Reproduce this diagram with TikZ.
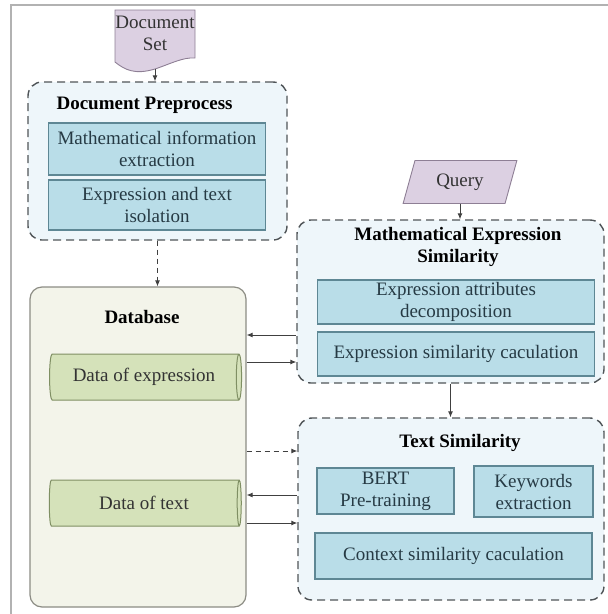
\documentclass[tikz,border=0pt]{standalone}
\usepackage{fontspec}
\setmainfont{Liberation Serif}
\usepackage{xcolor}
\usetikzlibrary{shapes,arrows.meta,positioning,calc}

\definecolor{boxblue}{HTML}{B9DDE8}
\definecolor{boxline}{HTML}{5E8794}
\definecolor{groupfill}{HTML}{EEF6FA}
\definecolor{groupline}{HTML}{505558}
\definecolor{dbfill}{HTML}{F3F4EA}
\definecolor{dbline}{HTML}{8C8C84}
\definecolor{cylfill}{HTML}{D5E2BA}
\definecolor{cylline}{HTML}{7F8F63}
\definecolor{inputfill}{HTML}{DCD0E2}
\definecolor{inputline}{HTML}{8E7F95}
\definecolor{inktext}{HTML}{263A44}

\begin{document}
\begin{tikzpicture}[x=1pt,y=-1pt,
    font=\fontsize{19}{22}\selectfont,
    title/.style={font=\fontsize{19}{22}\selectfont\bfseries, align=center},
    group/.style={draw=groupline, fill=groupfill, line width=1.4pt, dash pattern=on 8pt off 5pt, rounded corners=14pt},
    task/.style={draw=boxline, fill=boxblue, line width=1.1pt, text=inktext, align=center, inner sep=0pt},
    store/.style={cylinder, draw=cylline, fill=cylfill, line width=1pt, aspect=0.3, text=black!80, inner sep=0pt},
    arr/.style={-{Latex[length=6pt,width=5pt]}, draw=black!75, line width=0.9pt},
]
    \useasboundingbox (0,0) rectangle (608,614);
    \draw[black!30, line width=2.5pt] (11,614) -- (11,5) -- (608,5);

    % Document set (wavy bottom)
    \path[draw=inputline, fill=inputfill, line width=0.9pt] (115,10) -- (195,10) -- (195,58)
        .. controls (183,57) and (170,64) .. (155,69)
        .. controls (135,75) and (125,70) .. (115,62) -- cycle;
    \node[align=center, text=black!80] (docset) at (155,33) {Document\\Set};
    \coordinate (docbot) at (155,69);

    % Preprocessing
    \node[group, minimum width=259, minimum height=158] (prep) at (157.5,161) {};
    \node[title, anchor=west] (preptitle) at (53,105) {Document Preprocess};
    \node[task, minimum width=217, minimum height=52] (extract) at (157,149) {Mathematical information\\extraction};
    \node[task, minimum width=217, minimum height=50] (isolate) at (157,205) {Expression and text\\isolation};

    % Database
    \node[draw=dbline, fill=dbfill, line width=1.2pt, rounded corners=12pt, minimum width=216, minimum height=320] (db) at (138,447) {};
    \node[title] (dbtitle) at (142,317) {Database};
    \node[store, minimum width=46, minimum height=192] (dataexpr) at (144,377) {Data of expression};
    \node[store, minimum width=46, minimum height=192] (datatext) at (144,503) {Data of text};

    % Query
    \node[trapezium, trapezium left angle=73, trapezium right angle=107, trapezium stretches=true,
        draw=inputline, fill=inputfill, line width=0.9pt, minimum width=114, minimum height=43, text=black!80] (query) at (460,182) {Query};

    % Expression similarity
    \node[group, minimum width=307, minimum height=163] (mes) at (450.5,301.5) {};
    \node[title] (mestitle) at (458,247) {Mathematical Expression\\Similarity};
    \node[task, minimum width=277, minimum height=44] (decomp) at (456,302) {Expression attributes\\decomposition};
    \node[task, minimum width=277, minimum height=44] (exprsim) at (456,354) {Expression similarity caculation};

    % Text similarity
    \node[group, minimum width=306, minimum height=182] (ts) at (451,509) {};
    \node[title] (tstitle) at (460,443) {Text Similarity};
    \node[task, minimum width=137, minimum height=46] (bert) at (385.5,491) {BERT\\Pre-training};
    \node[task, minimum width=119, minimum height=51] (keywords) at (533.5,491.5) {Keywords\\extraction};
    \node[task, minimum width=277, minimum height=46] (context) at (453.5,556) {Context similarity caculation};

    % connections
    \draw[arr] (docbot) -- (docbot |- prep.north);
    \draw[arr, dash pattern=on 5pt off 4pt] (prep.south) -- (prep.south |- db.north);
    \draw[arr] (query.south) -- (query.south |- mes.north);
    \draw[arr] (mes.west |- 0,335) -- (db.east |- 0,335);
    \draw[arr] (db.east |- 0,362) -- (mes.west |- 0,362);
    \draw[arr] (mes.south) -- (mes.south |- ts.north);
    \draw[arr, dash pattern=on 5pt off 4pt] (db.east |- 0,451) -- (ts.west |- 0,451);
    \draw[arr] (ts.west |- 0,495) -- (db.east |- 0,495);
    \draw[arr] (db.east |- 0,523) -- (ts.west |- 0,523);
\end{tikzpicture}
\end{document}
